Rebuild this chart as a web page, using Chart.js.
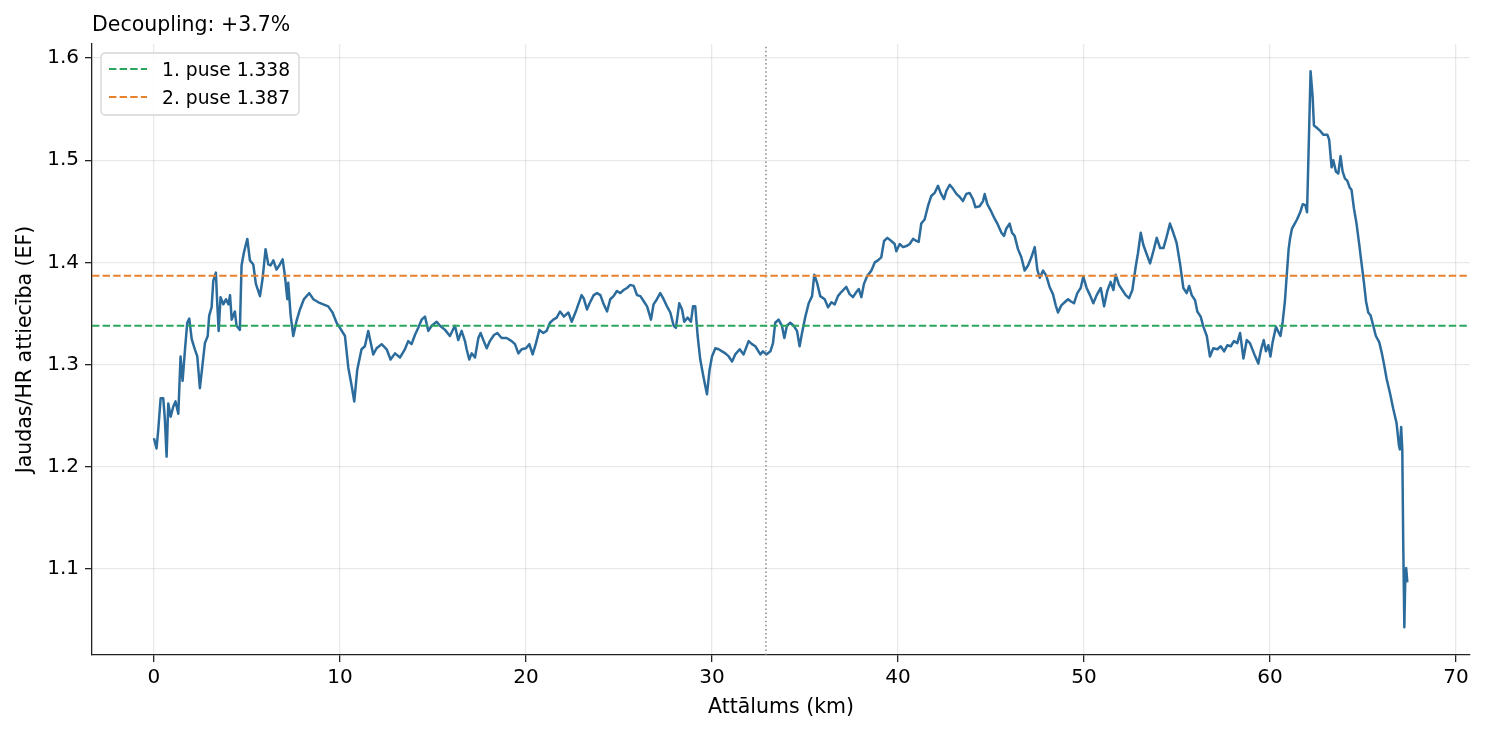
<!DOCTYPE html>
<html>
<head>
<meta charset="utf-8">
<script src="https://cdn.jsdelivr.net/npm/chart.js@4.4.1/dist/chart.umd.min.js"></script>
<style>
  html, body { margin: 0; padding: 0; background: #fff; }
  canvas { display: block; }
</style>
</head>
<body>
<canvas id="efChart" width="1485" height="735"></canvas>
<script>
// Attālums (km) un EF vērtības, nolasītas no attēla
const kmVals = [
  0, 0.14, 0.23, 0.36, 0.5, 0.59, 0.68, 0.77, 0.9, 1.04, 1.16, 1.31, 1.43, 1.54, 1.67, 1.79, 1.9, 2.03, 2.2, 2.33,
  2.47, 2.6, 2.74, 2.89, 2.97, 3.1, 3.19, 3.33, 3.4, 3.48, 3.58, 3.73, 3.87, 4.0, 4.09, 4.18, 4.35, 4.44, 4.62, 4.71,
  4.84, 5.02, 5.16, 5.34, 5.48, 5.7, 5.84, 6.0, 6.15, 6.27, 6.42, 6.59, 6.77, 6.92, 7.04, 7.17, 7.22, 7.35, 7.49, 7.67,
  7.85, 8.06, 8.35, 8.57, 8.84, 9.1, 9.37, 9.6, 9.82, 10.0, 10.27, 10.45, 10.63, 10.77, 10.93, 11.16, 11.34, 11.52, 11.79, 11.97,
  12.24, 12.51, 12.72, 12.96, 13.23, 13.49, 13.67, 13.85, 14.03, 14.21, 14.39, 14.57, 14.75, 14.93, 15.2, 15.38, 15.65, 15.91, 16.18, 16.36,
  16.54, 16.72, 16.81, 16.95, 17.08, 17.26, 17.44, 17.56, 17.71, 17.89, 18.06, 18.28, 18.46, 18.69, 18.96, 19.23, 19.41, 19.59, 19.77, 20.0,
  20.18, 20.36, 20.54, 20.72, 20.93, 21.11, 21.29, 21.47, 21.65, 21.83, 22.04, 22.28, 22.46, 22.72, 22.99, 23.1, 23.28, 23.42, 23.64, 23.82,
  24.0, 24.18, 24.36, 24.53, 24.71, 24.89, 25.07, 25.25, 25.43, 25.61, 25.79, 25.97, 26.15, 26.33, 26.51, 26.72, 26.86, 27.04, 27.22, 27.4,
  27.58, 27.76, 27.94, 28.06, 28.24, 28.39, 28.51, 28.69, 28.87, 28.98, 29.1, 29.23, 29.37, 29.52, 29.64, 29.73, 29.87, 30.0, 30.18, 30.36,
  30.54, 30.72, 30.9, 31.08, 31.25, 31.49, 31.7, 31.97, 32.15, 32.33, 32.6, 32.74, 32.92, 33.14, 33.28, 33.4, 33.58, 33.76, 33.89, 34.03,
  34.21, 34.39, 34.57, 34.71, 34.84, 35.02, 35.2, 35.38, 35.5, 35.65, 35.82, 36.06, 36.24, 36.42, 36.6, 36.77, 36.95, 37.22, 37.4, 37.58,
  37.76, 37.89, 38.03, 38.17, 38.35, 38.57, 38.75, 38.92, 39.1, 39.25, 39.43, 39.64, 39.82, 39.91, 40.09, 40.27, 40.45, 40.63, 40.81, 40.99,
  41.11, 41.25, 41.43, 41.61, 41.79, 41.97, 42.15, 42.29, 42.47, 42.6, 42.78, 42.96, 43.14, 43.32, 43.49, 43.67, 43.85, 44.03, 44.16, 44.39,
  44.57, 44.66, 44.8, 44.98, 45.16, 45.34, 45.56, 45.7, 45.82, 46.0, 46.13, 46.27, 46.45, 46.63, 46.81, 46.99, 47.17, 47.35, 47.49, 47.62,
  47.8, 47.97, 48.15, 48.33, 48.48, 48.6, 48.78, 48.96, 49.14, 49.28, 49.46, 49.64, 49.82, 49.96, 50.14, 50.32, 50.5, 50.68, 50.9, 51.08,
  51.25, 51.43, 51.58, 51.7, 51.88, 52.06, 52.24, 52.42, 52.6, 52.78, 52.9, 53.05, 53.19, 53.37, 53.55, 53.73, 53.91, 54.09, 54.27, 54.44,
  54.62, 54.8, 54.98, 55.16, 55.34, 55.52, 55.65, 55.79, 55.97, 56.09, 56.27, 56.42, 56.6, 56.77, 56.95, 57.17, 57.35, 57.53, 57.71, 57.89,
  58.06, 58.24, 58.39, 58.57, 58.75, 58.92, 59.16, 59.37, 59.52, 59.66, 59.78, 59.91, 60.02, 60.14, 60.32, 60.45, 60.56, 60.68, 60.8, 60.9,
  61.0, 61.08, 61.18, 61.3, 61.45, 61.62, 61.76, 61.9, 61.99, 62.07, 62.18, 62.29, 62.36, 62.5, 62.68, 62.86, 63.08, 63.18, 63.31, 63.4,
  63.54, 63.67, 63.79, 63.9, 64.03, 64.15, 64.29, 64.38, 64.51, 64.65, 64.8, 64.92, 65.05, 65.16, 65.28, 65.41, 65.55, 65.69, 65.87, 66.0,
  66.12, 66.27, 66.45, 66.62, 66.8, 66.93, 66.98, 67.05, 67.11, 67.16, 67.22, 67.27, 67.32, 67.38
];
const efVals = [
  1.228, 1.218, 1.236, 1.267, 1.267, 1.246, 1.210, 1.262, 1.249, 1.259, 1.264, 1.252, 1.308, 1.284, 1.315, 1.341, 1.345, 1.325, 1.315, 1.308,
  1.277, 1.298, 1.321, 1.328, 1.348, 1.356, 1.382, 1.390, 1.361, 1.333, 1.366, 1.359, 1.364, 1.359, 1.368, 1.344, 1.352, 1.338, 1.334, 1.397,
  1.410, 1.423, 1.402, 1.398, 1.379, 1.367, 1.384, 1.413, 1.398, 1.397, 1.402, 1.393, 1.398, 1.403, 1.387, 1.364, 1.380, 1.348, 1.328, 1.343,
  1.354, 1.364, 1.370, 1.364, 1.361, 1.359, 1.357, 1.351, 1.341, 1.336, 1.328, 1.297, 1.279, 1.264, 1.295, 1.315, 1.318, 1.333, 1.310, 1.316,
  1.320, 1.315, 1.305, 1.311, 1.307, 1.315, 1.323, 1.320, 1.329, 1.336, 1.344, 1.347, 1.333, 1.338, 1.342, 1.338, 1.334, 1.328, 1.338, 1.324,
  1.333, 1.323, 1.315, 1.305, 1.311, 1.307, 1.326, 1.331, 1.324, 1.316, 1.323, 1.329, 1.331, 1.326, 1.326, 1.323, 1.320, 1.311, 1.315, 1.316,
  1.320, 1.310, 1.321, 1.334, 1.331, 1.333, 1.341, 1.344, 1.346, 1.352, 1.347, 1.351, 1.342, 1.354, 1.368, 1.365, 1.354, 1.360, 1.368, 1.370,
  1.368, 1.359, 1.352, 1.364, 1.367, 1.372, 1.370, 1.373, 1.375, 1.378, 1.377, 1.368, 1.367, 1.362, 1.357, 1.344, 1.359, 1.364, 1.370, 1.364,
  1.357, 1.351, 1.338, 1.336, 1.360, 1.354, 1.342, 1.346, 1.342, 1.357, 1.357, 1.328, 1.305, 1.290, 1.279, 1.271, 1.295, 1.308, 1.316, 1.315,
  1.313, 1.311, 1.308, 1.303, 1.310, 1.315, 1.310, 1.323, 1.320, 1.318, 1.310, 1.313, 1.310, 1.313, 1.321, 1.341, 1.344, 1.338, 1.326, 1.338,
  1.341, 1.338, 1.333, 1.318, 1.331, 1.347, 1.360, 1.367, 1.388, 1.380, 1.367, 1.364, 1.356, 1.361, 1.359, 1.367, 1.371, 1.376, 1.369, 1.366,
  1.371, 1.374, 1.366, 1.379, 1.387, 1.392, 1.400, 1.402, 1.405, 1.421, 1.424, 1.421, 1.418, 1.411, 1.418, 1.415, 1.416, 1.418, 1.423, 1.421,
  1.420, 1.438, 1.442, 1.455, 1.465, 1.468, 1.475, 1.468, 1.462, 1.470, 1.476, 1.472, 1.467, 1.464, 1.460, 1.467, 1.468, 1.462, 1.454, 1.455,
  1.460, 1.467, 1.457, 1.451, 1.444, 1.438, 1.429, 1.426, 1.433, 1.438, 1.429, 1.426, 1.413, 1.405, 1.392, 1.397, 1.405, 1.415, 1.393, 1.385,
  1.392, 1.387, 1.376, 1.369, 1.358, 1.351, 1.358, 1.361, 1.364, 1.362, 1.360, 1.370, 1.375, 1.386, 1.375, 1.368, 1.360, 1.368, 1.375, 1.357,
  1.372, 1.381, 1.373, 1.388, 1.378, 1.373, 1.368, 1.365, 1.373, 1.396, 1.409, 1.429, 1.417, 1.408, 1.399, 1.411, 1.424, 1.414, 1.414, 1.425,
  1.438, 1.429, 1.419, 1.399, 1.375, 1.370, 1.377, 1.368, 1.363, 1.352, 1.347, 1.337, 1.328, 1.308, 1.316, 1.315, 1.318, 1.313, 1.319, 1.318,
  1.323, 1.321, 1.331, 1.306, 1.324, 1.321, 1.310, 1.301, 1.315, 1.324, 1.313, 1.319, 1.308, 1.322, 1.337, 1.332, 1.328, 1.342, 1.362, 1.388,
  1.413, 1.424, 1.433, 1.437, 1.442, 1.449, 1.457, 1.456, 1.449, 1.507, 1.587, 1.562, 1.534, 1.532, 1.529, 1.525, 1.525, 1.520, 1.493, 1.500,
  1.489, 1.487, 1.504, 1.489, 1.482, 1.480, 1.473, 1.471, 1.453, 1.438, 1.417, 1.399, 1.380, 1.362, 1.351, 1.348, 1.338, 1.328, 1.322, 1.312,
  1.301, 1.286, 1.272, 1.257, 1.243, 1.221, 1.217, 1.239, 1.217, 1.127, 1.043, 1.091, 1.101, 1.087
];

// Pusīšu vidējās vērtības un sadalījuma punkts
const halfLabels = ['1. puse 1.338', '2. puse 1.387'];
const halfValues = [1.338, 1.387];
const halfColors = ['#2aa65c', '#e8812b'];
const splitKm = 32.9;

// Asu robežas un iedaļas
const xRange = [-3.33, 70.75];
const yRange = [1.0159, 1.6137];
const xTicks = [0, 10, 20, 30, 40, 50, 60, 70];
const yTicks = [1.1, 1.2, 1.3, 1.4, 1.5, 1.6];

Chart.defaults.font.family = "'DejaVu Sans', sans-serif";
Chart.defaults.color = '#000';

const FONT = "'DejaVu Sans', sans-serif";

// Virsraksts kreisajā augšējā stūrī
const titlePlugin = {
    id: 'leftTitle',
    afterDraw(chart) {
        const ctx = chart.ctx;
        ctx.save();
        ctx.font = `20.5px ${FONT}`;
        ctx.fillStyle = '#000';
        ctx.textAlign = 'left';
        ctx.textBaseline = 'alphabetic';
        ctx.fillText('Decoupling: +3.7%', chart.chartArea.left, 31);
        ctx.restore();
    }
};

// Leģenda grafika iekšpusē (augšā pa kreisi)
const boxLegend = {
    id: 'boxLegend',
    afterDraw(chart) {
        const ctx = chart.ctx;
        const x0 = chart.chartArea.left + 9, y0 = chart.chartArea.top + 9;
        const w = 198, h = 62;
        ctx.save();
        ctx.beginPath();
        ctx.roundRect(x0, y0, w, h, 4);
        ctx.fillStyle = 'rgba(255,255,255,0.85)';
        ctx.fill();
        ctx.strokeStyle = '#d5d5d5';
        ctx.lineWidth = 1.3;
        ctx.stroke();

        ctx.font = `18.7px ${FONT}`;
        ctx.textBaseline = 'alphabetic';
        halfLabels.forEach((label, i) => {
            const yMid = y0 + 16 + i * 28;
            ctx.beginPath();
            ctx.setLineDash([7.4, 3.2]);
            ctx.strokeStyle = halfColors[i];
            ctx.lineWidth = 2;
            ctx.moveTo(x0 + 8, yMid);
            ctx.lineTo(x0 + 46, yMid);
            ctx.stroke();
            ctx.setLineDash([]);
            ctx.fillStyle = '#000';
            ctx.fillText(label, x0 + 61, yMid + 7);
        });
        ctx.restore();
    }
};

const mainData = kmVals.map((x, i) => ({ x: x, y: efVals[i] }));

const datasets = [
    {
        label: 'EF',
        data: mainData,
        borderColor: '#2c6c9c',
        borderWidth: 2.5,
        borderJoinStyle: 'round',
        pointRadius: 0,
        tension: 0,
        order: 3
    },
    {
        label: 'split',
        data: [{ x: splitKm, y: yRange[0] }, { x: splitKm, y: yRange[1] }],
        borderColor: '#808080',
        borderWidth: 1.4,
        borderDash: [1.5, 2.6],
        pointRadius: 0,
        order: 2
    }
];
halfValues.forEach((v, i) => {
    datasets.push({
        label: halfLabels[i],
        data: [{ x: xRange[0], y: v }, { x: xRange[1], y: v }],
        borderColor: halfColors[i],
        borderWidth: 2,
        borderDash: [7.4, 3.2],
        pointRadius: 0,
        order: 1
    });
});

const gridCommon = {
    color: 'rgba(0,0,0,0.085)',
    lineWidth: 1.3,
    tickLength: 7,
    tickColor: '#222',
    tickWidth: 1.3
};

new Chart(document.getElementById('efChart'), {
    type: 'line',
    data: { datasets: datasets },
    options: {
        responsive: false,
        devicePixelRatio: 1,
        animation: false,
        layout: { padding: { left: 0, right: 15, top: 44, bottom: 0 } },
        plugins: {
            legend: { display: false },
            tooltip: { enabled: false },
            title: { display: false }
        },
        scales: {
            x: {
                type: 'linear',
                min: xRange[0],
                max: xRange[1],
                afterBuildTicks: s => { s.ticks = xTicks.map(v => ({ value: v })); },
                afterFit: s => { s.height = 80; },
                ticks: { font: { size: 20 }, color: '#000', padding: 4, maxRotation: 0 },
                grid: gridCommon,
                border: { display: true, color: '#222', width: 1.3 },
                title: {
                    display: true,
                    text: 'Attālums (km)',
                    font: { size: 20.5 },
                    color: '#000',
                    padding: { top: 0, bottom: 15 }
                }
            },
            y: {
                type: 'linear',
                min: yRange[0],
                max: yRange[1],
                afterBuildTicks: s => { s.ticks = yTicks.map(v => ({ value: v })); },
                afterFit: s => { s.width = 92; },
                ticks: { font: { size: 20 }, color: '#000', padding: 6, callback: v => v.toFixed(1) },
                grid: gridCommon,
                border: { display: true, color: '#222', width: 1.3 },
                title: {
                    display: true,
                    text: 'Jaudas/HR attiecība (EF)',
                    font: { size: 20.5 },
                    color: '#000',
                    padding: { top: 13, bottom: 0 }
                }
            }
        }
    },
    plugins: [titlePlugin, boxLegend]
});
</script>
</body>
</html>
